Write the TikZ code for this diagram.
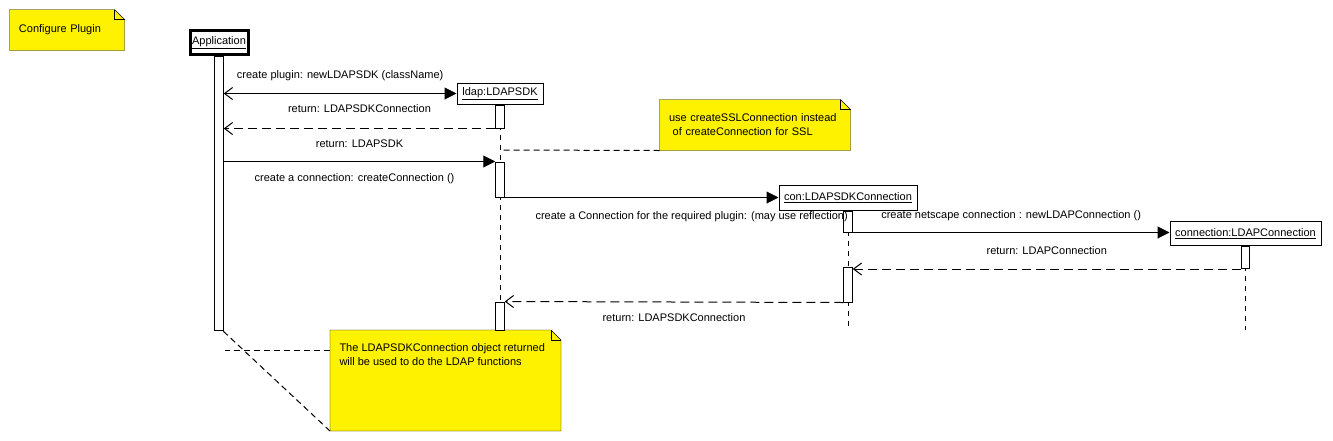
\documentclass[tikz,border=0pt]{standalone}
\usepackage{fontspec}
\setmainfont{Liberation Sans}
\usetikzlibrary{arrows.meta,positioning,backgrounds}

\newcommand{\foldnote}[1]{%
  \begin{scope}[on background layer]
    \draw[fill=yellow] (#1.north west) -- ([xshift=-10pt]#1.north east) -- ([yshift=-10pt]#1.north east) -- (#1.south east) -- (#1.south west) -- cycle;
    \draw ([xshift=-10pt]#1.north east) |- ([yshift=-10pt]#1.north east);
  \end{scope}}

\begin{document}
\begin{tikzpicture}[x=1pt,y=-1pt,line width=1pt,font=\fontsize{11}{14}\selectfont,
  objbox/.style={draw,fill=white,inner sep=0pt},
  actbar/.style={draw,fill=white,inner sep=0pt,minimum width=8.5pt},
  notebox/.style={inner sep=0pt},
  msglabel/.style={inner sep=0pt,text height=8pt,text depth=2pt},
  msgcall/.style={-{Triangle[length=12pt,width=12pt]}},
  msgboth/.style={{Straight Barb[length=8pt,width=12pt]}-{Triangle[length=12pt,width=12pt]}},
  msgreply/.style={-{Straight Barb[length=8pt,width=12pt]},dash pattern=on 9pt off 5pt},
  lifeline/.style={dash pattern=on 5pt off 5pt},
  notelink/.style={dash pattern=on 6pt off 4pt}]
\useasboundingbox (0,0) rectangle (1333,440);

\node[objbox,line width=3pt,minimum width=58pt,minimum height=24pt] (app) at (219,42.5) {\underline{Application}};
\node[objbox,minimum width=86pt,minimum height=21pt] (ldap) at (500,93.5) {\underline{ldap:LDAPSDK}};
\node[objbox,minimum width=138pt,minimum height=25pt] (con) at (848,197.5) {\underline{con:LDAPSDKConnection}};
\node[objbox,minimum width=151pt,minimum height=24pt] (cnx) at (1245.5,233.5) {\underline{connection:LDAPConnection}};

\coordinate (ldapend) at (500,330);
\coordinate (conend) at (848,330);
\coordinate (cnxend) at (1245.5,330);
\draw[lifeline] (ldap.south) -- (ldapend);
\draw[lifeline] (con.south) -- (conend);
\draw[lifeline] (cnx.south) -- (cnxend);

\node[actbar,minimum height=273.5pt] [below=0pt of app] (appbar) {};
\node[actbar,minimum height=23pt] [below=0pt of ldap] (ldapbar1) {};
\node[actbar,minimum height=35pt] (ldapbar2) at (500,179.5) {};
\node[actbar,minimum height=28pt] (ldapbar3) at (500,316) {};
\node[actbar,minimum height=21pt] [below=0pt of con] (conbar1) {};
\node[actbar,minimum height=35pt] (conbar2) at (848,284.5) {};
\node[actbar,minimum height=22pt] [below=0pt of cnx] (cnxbar) {};

\path (appbar.east |- ldap.west) edge[msgboth] node[msglabel,above=13pt] (m1) {create plugin: newLDAPSDK (className)} (ldap.west)
(ldapbar1.south west) edge[msgreply] node[msglabel,above=14pt] (m2) {return: LDAPSDKConnection} (appbar.east |- ldapbar1.south)
(appbar.east |- ldapbar2.north) edge[msgcall] node[msglabel,above=12pt] (m3) {return: LDAPSDK} node[msglabel,below=11pt,xshift=-5pt] (m4) {create a connection: createConnection ()} (ldapbar2.north west)
(ldapbar2.south east) edge[msgcall] node[msglabel,below=13pt,xshift=50pt] (m5) {create a Connection for the required plugin: (may use reflection)} (con.west)
(conbar1.south east) edge[msgcall] node[msglabel,above=12pt] (m6) {create netscape connection : newLDAPConnection ()} (cnx.west |- conbar1.south)
(cnxbar.south west) edge[msgreply] node[msglabel,above=12.5pt] (m7) {return: LDAPConnection} (conbar2.east |- cnxbar.south)
(conbar2.south west) edge[msgreply] node[msglabel,below=11pt] (m8) {return: LDAPSDKConnection} (ldapbar3.north east)
;

\node[notebox,minimum width=114pt,minimum height=40pt,text width=96pt,align=left] (plugnote) at (67,30) {Configure Plugin};
\node[notebox,minimum width=190pt,minimum height=50pt,text width=172pt,align=left] (sslnote) at (755,125) {use createSSLConnection instead\\\ of createConnection for SSL};
\node[notebox,anchor=north west,inner xsep=9pt,inner ysep=13pt,minimum width=230pt] (resnote) at (330,330) {\parbox[c][74pt][t]{212pt}{The LDAPSDKConnection object returned\\will be used to do the LDAP functions}};
\foreach \n in {plugnote,sslnote,resnote} \foldnote{\n};

\coordinate (sslpt) at (500,150);
\coordinate (resA) at (225,350);
\coordinate (resB) at (222,330);
\draw[notelink] (sslnote.south west) -- (sslpt);
\draw[notelink] (resA -| resnote.west) -- (resA);
\draw[notelink] (resnote.south west) -- (resB);
\end{tikzpicture}
\end{document}
